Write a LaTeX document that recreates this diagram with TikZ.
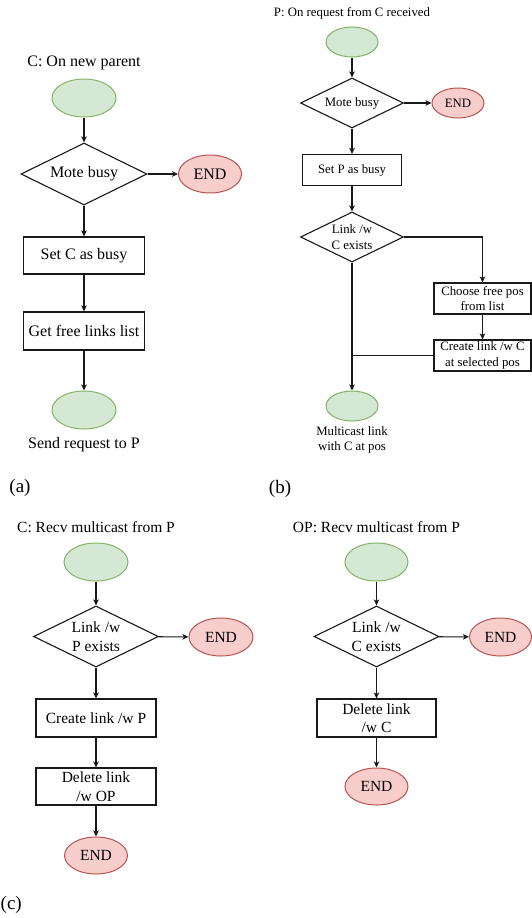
\documentclass[tikz,border=0pt]{standalone}
\usepackage{fontspec}
\setmainfont{Liberation Serif}
\usetikzlibrary{shapes.geometric,arrows.meta}
\definecolor{gfill}{HTML}{D5E8D4}
\definecolor{gline}{HTML}{82B366}
\definecolor{rfill}{HTML}{F8CECC}
\definecolor{rline}{HTML}{B85450}
\tikzset{
  fa/.style={font=\fontsize{16}{19}\selectfont},
  fb/.style={font=\fontsize{12.8}{15.5}\selectfont},
  fc/.style={font=\fontsize{15.5}{18.5}\selectfont},
  flab/.style={font=\fontsize{19}{22}\selectfont},
  startell/.style={ellipse, draw=gline, fill=gfill, line width=1pt, inner sep=0pt},
  endell/.style={ellipse, draw=rline, fill=rfill, line width=1pt, inner sep=0pt},
  procbox/.style={rectangle, draw=black!90, line width=1.1pt, inner sep=0pt, align=center},
  decide/.style={diamond, draw=black!90, line width=1.1pt, inner sep=0pt, aspect=2, align=center},
  txt/.style={inner sep=0pt, align=center},
  arr/.style={line width=1.05pt, draw=black!90, -{Stealth[length=6pt,width=5.5pt,inset=1.5pt]}},
  ln/.style={line width=1.05pt, draw=black!90},
}
\begin{document}
\begin{tikzpicture}[x=1pt,y=-1pt]
\useasboundingbox (0,0) rectangle (532,918);
% ---------- (a)
\node[txt,fa] (ta) at (84,63) {C: On new parent};
\node[startell, minimum width=64pt, minimum height=38pt] (s1) at (84,98) {};
\node[decide, fa, minimum width=126pt, minimum height=62pt] (d1) at (84,174) {Mote busy};
\node[endell, fa, minimum width=63pt, minimum height=38pt] (e1) at (210,174) {END};
\node[procbox, fa, minimum width=121pt, minimum height=37pt] (b1) at (84,255.5) {Set C as busy};
\node[procbox, fa, minimum width=121pt, minimum height=38pt] (b2) at (84,331) {Get free links list};
\node[startell, minimum width=64pt, minimum height=38pt] (f1) at (84,410) {};
\node[txt,fa] (la) at (84,445) {Send request to P};
\node[txt,flab] (pa) at (20,488) {(a)};
\draw[arr] (s1) -- (d1);
\draw[arr] (d1) -- (e1);
\draw[arr] (d1) -- (b1);
\draw[arr] (b1) -- (b2);
\draw[arr] (b2) -- (f1);
% ---------- (b)
\node[txt,fb] (tb) at (352,13) {P: On request from C received};
\node[startell, minimum width=52pt, minimum height=30pt] (s2) at (352,42) {};
\node[decide, fb, minimum width=103pt, minimum height=50pt] (d2) at (352,103) {Mote busy};
\node[endell, fb, minimum width=52pt, minimum height=30pt] (e2) at (458,103) {END};
\node[procbox, fb, minimum width=99pt, minimum height=31pt] (b3) at (352,170) {Set P as busy};
\node[decide, fb, minimum width=103pt, minimum height=50pt] (d3) at (352,237) {Link /w\\C exists};
\node[procbox, fb, minimum width=97pt, minimum height=31pt] (b4) at (482.5,298.5) {Choose free pos\\from list};
\node[procbox, fb, minimum width=97pt, minimum height=31pt] (b5) at (482.5,355.5) {Create link /w C\\at selected pos};
\node[startell, minimum width=52pt, minimum height=30pt] (f2) at (352,406) {};
\node[txt,fb] (lb) at (352,440) {Multicast link\\with C at pos};
\node[txt,flab] (pb) at (280,489) {(b)};
\draw[arr] (s2) -- (d2);
\draw[arr] (d2) -- (e2);
\draw[arr] (d2) -- (b3);
\draw[arr] (b3) -- (d3);
\draw[arr] (d3.east) -| (b4.north);
\draw[arr] (b4) -- (b5);
\draw[ln] (b5.west) -- (b5.west -| d3.south);
\draw[arr] (d3.south) -- (f2.north);
% ---------- (c)
\node[txt,fc] (tc) at (96,527) {C: Recv multicast from P};
\node[startell, minimum width=64pt, minimum height=38pt] (s3) at (96,562) {};
\node[decide, fc, minimum width=125pt, minimum height=61pt] (d4) at (96,636.5) {Link /w\\P exists};
\node[endell, fc, minimum width=64pt, minimum height=38pt] (e3) at (221,637) {END};
\node[procbox, fc, minimum width=120pt, minimum height=38pt] (b6) at (96,718) {Create link /w P};
\node[procbox, fc, minimum width=120pt, minimum height=37pt] (b7) at (96,786.5) {Delete link\\/w OP};
\node[endell, fc, minimum width=63pt, minimum height=37pt] (e4) at (96,855.5) {END};
\node[txt,flab,anchor=west] (pc) at (0.5,905) {(c)};
\draw[arr] (s3) -- (d4);
\draw[arr] (d4) -- (e3);
\draw[arr] (d4) -- (b6);
\draw[arr] (b6) -- (b7);
\draw[arr] (b7) -- (e4);
% ---------- (d)
\node[txt,fc] (td) at (376.5,527) {OP: Recv multicast from P};
\node[startell, minimum width=63pt, minimum height=38pt] (s4) at (376.5,562) {};
\node[decide, fc, minimum width=125pt, minimum height=61pt] (d5) at (376.5,636.5) {Link /w\\C exists};
\node[endell, fc, minimum width=62pt, minimum height=38pt] (e5) at (500.5,637) {END};
\node[procbox, fc, minimum width=119pt, minimum height=38pt] (b8) at (376.5,718) {Delete link\\/w C};
\node[endell, fc, minimum width=63pt, minimum height=37pt] (e6) at (376.5,786.5) {END};
\draw[arr] (s4) -- (d5);
\draw[arr] (d5) -- (e5);
\draw[arr] (d5) -- (b8);
\draw[arr] (b8) -- (e6);
\end{tikzpicture}
\end{document}
